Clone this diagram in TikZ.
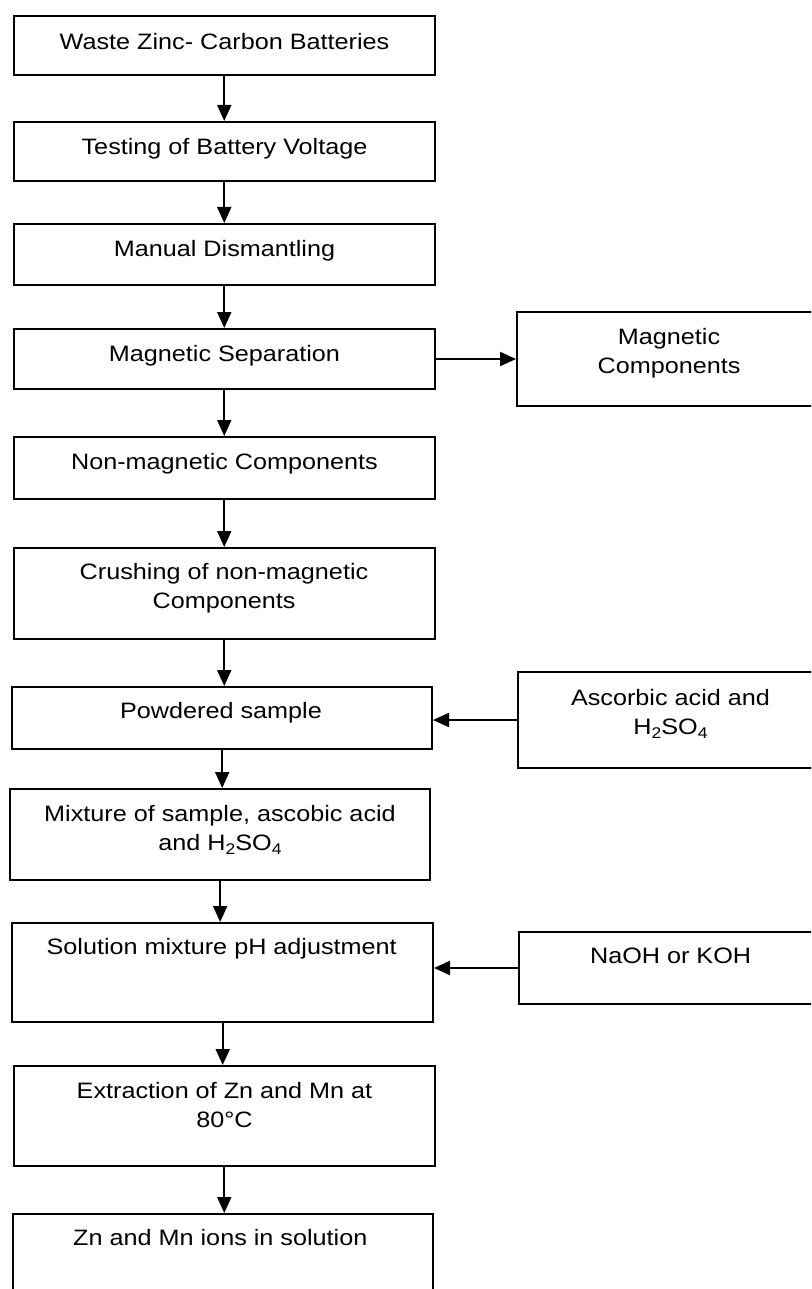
\documentclass[tikz,border=0pt]{standalone}
\usepackage{fontspec}
\setmainfont{Liberation Sans}[FakeStretch=1.13]
\usetikzlibrary{arrows.meta}
\newcommand\chemsub[1]{\raisebox{-0.22em}{\fontsize{15.5}{15.5}\selectfont #1}}
\tikzset{
  box/.style={draw, line width=2pt, inner sep=0pt, anchor=north west},
  txt/.style={anchor=base, align=center, inner sep=0pt, font=\fontsize{22.3}{29}\selectfont},
  arr/.style={line width=2pt, -{Triangle[length=16pt,width=14pt]}}
}
\begin{document}
\begin{tikzpicture}[x=1pt,y=-1pt]
\useasboundingbox (0,0) rectangle (811,1289);
\clip (0,0) rectangle (811,1289);
% left column boxes
\node[box, minimum width=420.5pt, minimum height=59pt] (b1) at (13,15) {};
\node[box, minimum width=420.5pt, minimum height=59pt] (b2) at (13,121) {};
\node[box, minimum width=420.5pt, minimum height=61pt] (b3) at (13,223) {};
\node[box, minimum width=420.5pt, minimum height=60pt] (b4) at (13,328) {};
\node[box, minimum width=420.5pt, minimum height=62pt] (b5) at (13,436) {};
\node[box, minimum width=420.5pt, minimum height=91pt] (b6) at (13,547) {};
\node[box, minimum width=419.6pt, minimum height=62pt] (b7) at (11.4,686) {};
\node[box, minimum width=419.7pt, minimum height=91pt] (b8) at (9.3,788) {};
\node[box, minimum width=420.6pt, minimum height=99pt] (b9) at (11.4,922) {};
\node[box, minimum width=420.5pt, minimum height=100pt] (b10) at (13,1065) {};
\node[box, minimum width=420.6pt, minimum height=110pt] (b11) at (11.7,1213) {};
% right column boxes
\node[box, minimum width=306pt, minimum height=94pt] (mc) at (516,311) {};
\node[box, minimum width=305pt, minimum height=96pt] (as) at (517,671) {};
\node[box, minimum width=304pt, minimum height=72pt] (na) at (518,931) {};
% texts (base anchor = baseline of the last line)
\node[txt] (t1) at (224.5,49.3) {Waste Zinc- Carbon Batteries};
\node[txt] (t2) at (224.5,154.7) {Testing of Battery Voltage};
\node[txt] (t3) at (224.5,256) {Manual Dismantling};
\node[txt] (t4) at (224.5,361) {Magnetic Separation};
\node[txt] (t5) at (224.5,469.7) {Non-magnetic Components};
\node[txt] (t6) at (224,608.7) {Crushing of non-magnetic\\Components};
\node[txt] (t7) at (221,718) {Powdered sample};
\node[txt] (t8) at (220,850) {Mixture of sample, ascobic acid\\and H\chemsub{2}SO\chemsub{4}};
\node[txt] (t9) at (221.7,954.7) {Solution mixture pH adjustment};
\node[txt] (t10) at (224.5,1127.7) {Extraction of Zn and Mn at\\80°C};
\node[txt] (t11) at (220.3,1245.7) {Zn and Mn ions in solution};
\node[txt] (tmc) at (669,373.7) {Magnetic\\Components};
\node[txt] (tas) at (670.5,734) {Ascorbic acid and\\H\chemsub{2}SO\chemsub{4}};
\node[txt] (tna) at (670.6,963) {NaOH or KOH};
% connectors
\draw[arr] (b1.south) -- (b1.south |- b2.north);
\draw[arr] (b2.south) -- (b2.south |- b3.north);
\draw[arr] (b3.south) -- (b3.south |- b4.north);
\draw[arr] (b4.south) -- (b4.south |- b5.north);
\draw[arr] (b5.south) -- (b5.south |- b6.north);
\draw[arr] (b6.south) -- (b6.south |- b7.north);
\draw[arr] (b7.south) -- (b7.south |- b8.north);
\draw[arr] (b8.south) -- (b8.south |- b9.north);
\draw[arr] (b9.south) -- (b9.south |- b10.north);
\draw[arr] (b10.south) -- (b10.south |- b11.north);
\draw[arr] (b4.east) -- (b4.east -| mc.west);
\draw[arr] (as.west) -- (as.west -| b7.east);
\draw[arr] (na.west) -- (na.west -| b9.east);
\end{tikzpicture}
\end{document}
